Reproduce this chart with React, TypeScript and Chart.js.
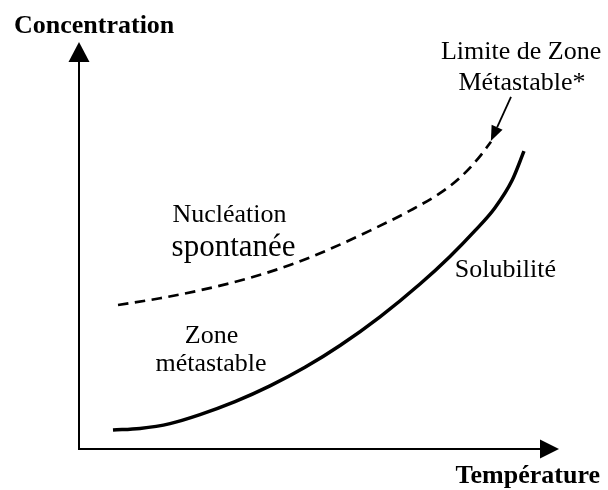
import React, { useEffect, useRef } from 'react';
import { Chart, registerables } from 'chart.js';

Chart.register(...registerables);

// Solubility curve (solid)
const solubiliteT = [7.08, 12.71, 18.96, 25.21, 32.5, 39.79, 47.08, 54.38, 62.71, 71.04, 77.29, 82.5, 86.67, 90.21, 92.71];
const solubiliteC = [4.67, 5.06, 6.24, 8.45, 11.63, 15.5, 20.06, 25.42, 32.47, 40.53, 47.31, 53.64, 59.29, 65.97, 73.19];

// Metastable zone limit (dashed)
const limiteT = [8.13, 16.88, 25.21, 35.63, 43.96, 52.29, 60.63, 68.96, 75.21, 79.38, 83.13, 85.83];
const limiteC = [35.38, 37.03, 38.99, 42.06, 45.21, 49.14, 53.66, 58.57, 62.85, 66.68, 71.33, 75.48];

// Text labels (in data units)
const labelTexts = ['Nucléation', 'spontanée', 'Zone', 'métastable', 'Solubilité', 'Limite de Zone', 'Métastable*'];
const labelX = [31.35, 32.2, 27.6, 27.5, 78.3, 92.1, 92.3];
const labelY = [55.8, 47.4, 26.0, 19.2, 42.3, 95.8, 88.2];
const labelSize = [26, 31, 26, 26, 26, 26, 26];
const labelAlign: CanvasTextAlign[] = ['center', 'center', 'center', 'center', 'left', 'center', 'center'];

const axisTitleY = 'Concentration';
const axisTitleX = 'Température';

// pointer arrow for "Limite de Zone Métastable*"
const pointerFrom = [90.0, 86.5];
const pointerTo = [85.8, 75.7];

const SERIF = '"Liberation Serif", "Times New Roman", serif';

const drawPlugin = {
  id: 'schema',
  afterDatasetsDraw(chart: any) {
    const { ctx, chartArea, scales } = chart;
    const xs = scales.x;
    const ys = scales.y;
    const L = chartArea.left, R = chartArea.right, T = chartArea.top, B = chartArea.bottom;
    ctx.save();
    ctx.strokeStyle = '#000';
    ctx.fillStyle = '#000';
    ctx.lineWidth = 2;
    ctx.setLineDash([]);
    // y axis
    ctx.beginPath();
    ctx.moveTo(L, B + 1);
    ctx.lineTo(L, T + 18);
    ctx.stroke();
    ctx.beginPath();
    ctx.moveTo(L, T);
    ctx.lineTo(L - 10.5, T + 20);
    ctx.lineTo(L + 10.5, T + 20);
    ctx.closePath();
    ctx.fill();
    // x axis
    ctx.beginPath();
    ctx.moveTo(L - 1, B);
    ctx.lineTo(R - 17, B);
    ctx.stroke();
    ctx.beginPath();
    ctx.moveTo(R, B);
    ctx.lineTo(R - 19, B - 9.5);
    ctx.lineTo(R - 19, B + 9.5);
    ctx.closePath();
    ctx.fill();

    // pointer arrow
    const fx = xs.getPixelForValue(pointerFrom[0]);
    const fy = ys.getPixelForValue(pointerFrom[1]);
    const tx = xs.getPixelForValue(pointerTo[0]);
    const ty = ys.getPixelForValue(pointerTo[1]);
    const ang = Math.atan2(ty - fy, tx - fx);
    const hl = 15, hw = 6;
    const bx = tx - hl * Math.cos(ang);
    const by = ty - hl * Math.sin(ang);
    ctx.lineWidth = 1.8;
    ctx.beginPath();
    ctx.moveTo(fx, fy);
    ctx.lineTo(bx, by);
    ctx.stroke();
    ctx.beginPath();
    ctx.moveTo(tx, ty);
    ctx.lineTo(bx + hw * Math.sin(ang), by - hw * Math.cos(ang));
    ctx.lineTo(bx - hw * Math.sin(ang), by + hw * Math.cos(ang));
    ctx.closePath();
    ctx.fill();

    // labels
    ctx.textBaseline = 'alphabetic';
    for (let i = 0; i < labelTexts.length; i++) {
      ctx.font = `${labelSize[i]}px ${SERIF}`;
      ctx.textAlign = labelAlign[i];
      ctx.fillText(labelTexts[i], xs.getPixelForValue(labelX[i]), ys.getPixelForValue(labelY[i]));
    }
    // axis titles
    ctx.font = `bold 26px ${SERIF}`;
    ctx.textAlign = 'left';
    ctx.fillText(axisTitleY, 14, 33);
    ctx.textAlign = 'right';
    ctx.fillText(axisTitleX, 600, 483);
    ctx.restore();
  },
};

export default function App() {
  const ref = useRef<HTMLCanvasElement | null>(null);
  useEffect(() => {
    if (!ref.current) return;
    const chart = new Chart(ref.current, {
      type: 'line',
      data: {
        datasets: [
          {
            label: 'Solubilité',
            data: solubiliteT.map((t, i) => ({ x: t, y: solubiliteC[i] })),
            borderColor: '#000',
            borderWidth: 3.5,
            pointRadius: 0,
            fill: false,
            cubicInterpolationMode: 'monotone',
            clip: false,
          },
          {
            label: 'Limite de Zone Métastable',
            data: limiteT.map((t, i) => ({ x: t, y: limiteC[i] })),
            borderColor: '#000',
            borderWidth: 2.7,
            borderDash: [10.5, 6.5],
            pointRadius: 0,
            fill: false,
            cubicInterpolationMode: 'monotone',
            clip: false,
          },
        ],
      },
      options: {
        responsive: false,
        animation: false,
        devicePixelRatio: 1,
        layout: { padding: { left: 79, right: 49, top: 42, bottom: 41 } },
        plugins: { legend: { display: false }, tooltip: { enabled: false } },
        scales: {
          x: { type: 'linear', min: 0, max: 100, display: false },
          y: { type: 'linear', min: 0, max: 100, display: false },
        },
        events: [],
      },
      plugins: [drawPlugin],
    } as any);
    return () => chart.destroy();
  }, []);
  return (
    <div style={{ position: 'absolute', left: 0, top: 0, width: 608, height: 490, background: '#fff' }}>
      <canvas ref={ref} width={608} height={490} style={{ width: 608, height: 490, display: 'block' }} />
    </div>
  );
}
